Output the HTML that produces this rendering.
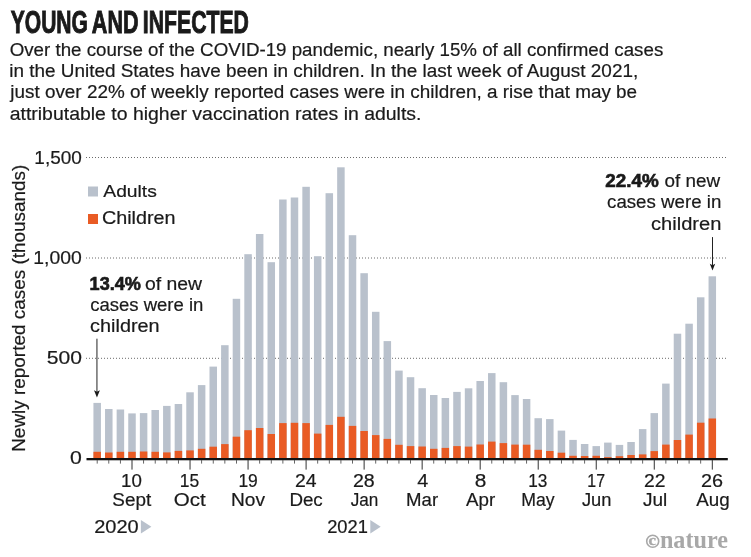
<!DOCTYPE html>
<html><head><meta charset="utf-8"><style>
html,body{margin:0;padding:0;background:#fff;}
svg{display:block;}
text{filter:grayscale(1);}
text{font-family:"Liberation Sans",sans-serif;}
</style></head><body>
<svg width="751" height="557" viewBox="0 0 751 557">
<rect width="751" height="557" fill="#fff"/>
<line x1="86" y1="157.5" x2="727" y2="157.5" stroke="#6a6a6a" stroke-width="1" stroke-dasharray="1 2"/>
<line x1="86" y1="258.0" x2="727" y2="258.0" stroke="#6a6a6a" stroke-width="1" stroke-dasharray="1 2"/>
<line x1="86" y1="358.3" x2="727" y2="358.3" stroke="#6a6a6a" stroke-width="1" stroke-dasharray="1 2"/>
<rect x="93.43" y="402.90" width="7.5" height="55.10" fill="#b9c1cc"/>
<rect x="93.43" y="451.80" width="7.5" height="6.20" fill="#e95b24"/>
<rect x="105.04" y="409.00" width="7.5" height="49.00" fill="#b9c1cc"/>
<rect x="105.04" y="452.50" width="7.5" height="5.50" fill="#e95b24"/>
<rect x="116.64" y="409.50" width="7.5" height="48.50" fill="#b9c1cc"/>
<rect x="116.64" y="451.80" width="7.5" height="6.20" fill="#e95b24"/>
<rect x="128.25" y="413.40" width="7.5" height="44.60" fill="#b9c1cc"/>
<rect x="128.25" y="451.80" width="7.5" height="6.20" fill="#e95b24"/>
<rect x="139.85" y="413.10" width="7.5" height="44.90" fill="#b9c1cc"/>
<rect x="139.85" y="451.50" width="7.5" height="6.50" fill="#e95b24"/>
<rect x="151.46" y="410.00" width="7.5" height="48.00" fill="#b9c1cc"/>
<rect x="151.46" y="451.80" width="7.5" height="6.20" fill="#e95b24"/>
<rect x="163.07" y="405.90" width="7.5" height="52.10" fill="#b9c1cc"/>
<rect x="163.07" y="452.40" width="7.5" height="5.60" fill="#e95b24"/>
<rect x="174.67" y="404.00" width="7.5" height="54.00" fill="#b9c1cc"/>
<rect x="174.67" y="450.90" width="7.5" height="7.10" fill="#e95b24"/>
<rect x="186.28" y="392.30" width="7.5" height="65.70" fill="#b9c1cc"/>
<rect x="186.28" y="450.40" width="7.5" height="7.60" fill="#e95b24"/>
<rect x="197.88" y="385.10" width="7.5" height="72.90" fill="#b9c1cc"/>
<rect x="197.88" y="448.80" width="7.5" height="9.20" fill="#e95b24"/>
<rect x="209.49" y="366.60" width="7.5" height="91.40" fill="#b9c1cc"/>
<rect x="209.49" y="446.70" width="7.5" height="11.30" fill="#e95b24"/>
<rect x="221.10" y="345.20" width="7.5" height="112.80" fill="#b9c1cc"/>
<rect x="221.10" y="444.10" width="7.5" height="13.90" fill="#e95b24"/>
<rect x="232.70" y="298.80" width="7.5" height="159.20" fill="#b9c1cc"/>
<rect x="232.70" y="436.70" width="7.5" height="21.30" fill="#e95b24"/>
<rect x="244.31" y="254.20" width="7.5" height="203.80" fill="#b9c1cc"/>
<rect x="244.31" y="430.20" width="7.5" height="27.80" fill="#e95b24"/>
<rect x="255.91" y="234.00" width="7.5" height="224.00" fill="#b9c1cc"/>
<rect x="255.91" y="428.00" width="7.5" height="30.00" fill="#e95b24"/>
<rect x="267.52" y="262.20" width="7.5" height="195.80" fill="#b9c1cc"/>
<rect x="267.52" y="434.00" width="7.5" height="24.00" fill="#e95b24"/>
<rect x="279.13" y="199.50" width="7.5" height="258.50" fill="#b9c1cc"/>
<rect x="279.13" y="423.10" width="7.5" height="34.90" fill="#e95b24"/>
<rect x="290.73" y="197.50" width="7.5" height="260.50" fill="#b9c1cc"/>
<rect x="290.73" y="422.80" width="7.5" height="35.20" fill="#e95b24"/>
<rect x="302.34" y="186.80" width="7.5" height="271.20" fill="#b9c1cc"/>
<rect x="302.34" y="423.10" width="7.5" height="34.90" fill="#e95b24"/>
<rect x="313.94" y="256.20" width="7.5" height="201.80" fill="#b9c1cc"/>
<rect x="313.94" y="433.60" width="7.5" height="24.40" fill="#e95b24"/>
<rect x="325.55" y="193.20" width="7.5" height="264.80" fill="#b9c1cc"/>
<rect x="325.55" y="424.90" width="7.5" height="33.10" fill="#e95b24"/>
<rect x="337.16" y="167.30" width="7.5" height="290.70" fill="#b9c1cc"/>
<rect x="337.16" y="416.80" width="7.5" height="41.20" fill="#e95b24"/>
<rect x="348.76" y="235.20" width="7.5" height="222.80" fill="#b9c1cc"/>
<rect x="348.76" y="425.90" width="7.5" height="32.10" fill="#e95b24"/>
<rect x="360.37" y="273.20" width="7.5" height="184.80" fill="#b9c1cc"/>
<rect x="360.37" y="431.00" width="7.5" height="27.00" fill="#e95b24"/>
<rect x="371.97" y="311.80" width="7.5" height="146.20" fill="#b9c1cc"/>
<rect x="371.97" y="435.10" width="7.5" height="22.90" fill="#e95b24"/>
<rect x="383.58" y="341.10" width="7.5" height="116.90" fill="#b9c1cc"/>
<rect x="383.58" y="438.90" width="7.5" height="19.10" fill="#e95b24"/>
<rect x="395.19" y="370.60" width="7.5" height="87.40" fill="#b9c1cc"/>
<rect x="395.19" y="444.80" width="7.5" height="13.20" fill="#e95b24"/>
<rect x="406.79" y="377.20" width="7.5" height="80.80" fill="#b9c1cc"/>
<rect x="406.79" y="446.10" width="7.5" height="11.90" fill="#e95b24"/>
<rect x="418.40" y="388.20" width="7.5" height="69.80" fill="#b9c1cc"/>
<rect x="418.40" y="446.50" width="7.5" height="11.50" fill="#e95b24"/>
<rect x="430.00" y="395.00" width="7.5" height="63.00" fill="#b9c1cc"/>
<rect x="430.00" y="448.80" width="7.5" height="9.20" fill="#e95b24"/>
<rect x="441.61" y="398.00" width="7.5" height="60.00" fill="#b9c1cc"/>
<rect x="441.61" y="447.90" width="7.5" height="10.10" fill="#e95b24"/>
<rect x="453.22" y="391.90" width="7.5" height="66.10" fill="#b9c1cc"/>
<rect x="453.22" y="446.10" width="7.5" height="11.90" fill="#e95b24"/>
<rect x="464.82" y="388.30" width="7.5" height="69.70" fill="#b9c1cc"/>
<rect x="464.82" y="446.60" width="7.5" height="11.40" fill="#e95b24"/>
<rect x="476.43" y="381.00" width="7.5" height="77.00" fill="#b9c1cc"/>
<rect x="476.43" y="444.50" width="7.5" height="13.50" fill="#e95b24"/>
<rect x="488.03" y="373.10" width="7.5" height="84.90" fill="#b9c1cc"/>
<rect x="488.03" y="441.60" width="7.5" height="16.40" fill="#e95b24"/>
<rect x="499.64" y="382.20" width="7.5" height="75.80" fill="#b9c1cc"/>
<rect x="499.64" y="443.10" width="7.5" height="14.90" fill="#e95b24"/>
<rect x="511.25" y="395.10" width="7.5" height="62.90" fill="#b9c1cc"/>
<rect x="511.25" y="444.60" width="7.5" height="13.40" fill="#e95b24"/>
<rect x="522.85" y="399.00" width="7.5" height="59.00" fill="#b9c1cc"/>
<rect x="522.85" y="444.70" width="7.5" height="13.30" fill="#e95b24"/>
<rect x="534.46" y="418.20" width="7.5" height="39.80" fill="#b9c1cc"/>
<rect x="534.46" y="449.80" width="7.5" height="8.20" fill="#e95b24"/>
<rect x="546.06" y="419.10" width="7.5" height="38.90" fill="#b9c1cc"/>
<rect x="546.06" y="451.00" width="7.5" height="7.00" fill="#e95b24"/>
<rect x="557.67" y="430.60" width="7.5" height="27.40" fill="#b9c1cc"/>
<rect x="557.67" y="452.70" width="7.5" height="5.30" fill="#e95b24"/>
<rect x="569.28" y="439.90" width="7.5" height="18.10" fill="#b9c1cc"/>
<rect x="569.28" y="455.80" width="7.5" height="2.20" fill="#e95b24"/>
<rect x="580.88" y="444.00" width="7.5" height="14.00" fill="#b9c1cc"/>
<rect x="580.88" y="456.00" width="7.5" height="2.00" fill="#e95b24"/>
<rect x="592.49" y="446.10" width="7.5" height="11.90" fill="#b9c1cc"/>
<rect x="592.49" y="455.80" width="7.5" height="2.20" fill="#e95b24"/>
<rect x="604.09" y="442.60" width="7.5" height="15.40" fill="#b9c1cc"/>
<rect x="604.09" y="457.10" width="7.5" height="0.90" fill="#e95b24"/>
<rect x="615.70" y="444.90" width="7.5" height="13.10" fill="#b9c1cc"/>
<rect x="615.70" y="456.20" width="7.5" height="1.80" fill="#e95b24"/>
<rect x="627.31" y="442.00" width="7.5" height="16.00" fill="#b9c1cc"/>
<rect x="627.31" y="455.00" width="7.5" height="3.00" fill="#e95b24"/>
<rect x="638.91" y="429.10" width="7.5" height="28.90" fill="#b9c1cc"/>
<rect x="638.91" y="454.40" width="7.5" height="3.60" fill="#e95b24"/>
<rect x="650.52" y="413.10" width="7.5" height="44.90" fill="#b9c1cc"/>
<rect x="650.52" y="451.10" width="7.5" height="6.90" fill="#e95b24"/>
<rect x="662.12" y="383.60" width="7.5" height="74.40" fill="#b9c1cc"/>
<rect x="662.12" y="444.60" width="7.5" height="13.40" fill="#e95b24"/>
<rect x="673.73" y="333.70" width="7.5" height="124.30" fill="#b9c1cc"/>
<rect x="673.73" y="440.00" width="7.5" height="18.00" fill="#e95b24"/>
<rect x="685.34" y="323.70" width="7.5" height="134.30" fill="#b9c1cc"/>
<rect x="685.34" y="434.60" width="7.5" height="23.40" fill="#e95b24"/>
<rect x="696.94" y="297.30" width="7.5" height="160.70" fill="#b9c1cc"/>
<rect x="696.94" y="422.70" width="7.5" height="35.30" fill="#e95b24"/>
<rect x="708.55" y="276.30" width="7.5" height="181.70" fill="#b9c1cc"/>
<rect x="708.55" y="418.50" width="7.5" height="39.50" fill="#e95b24"/>
<rect x="86.5" y="458" width="641.30" height="2.3" fill="#111"/>
<rect x="96.73" y="460" width="0.9" height="3.6" fill="#555"/>
<rect x="108.34" y="460" width="0.9" height="3.6" fill="#555"/>
<rect x="119.94" y="460" width="0.9" height="3.6" fill="#555"/>
<rect x="131.50" y="460" width="1" height="9.6" fill="#333"/>
<rect x="143.15" y="460" width="0.9" height="3.6" fill="#555"/>
<rect x="154.76" y="460" width="0.9" height="3.6" fill="#555"/>
<rect x="166.37" y="460" width="0.9" height="3.6" fill="#555"/>
<rect x="177.97" y="460" width="0.9" height="3.6" fill="#555"/>
<rect x="189.53" y="460" width="1" height="9.6" fill="#333"/>
<rect x="201.18" y="460" width="0.9" height="3.6" fill="#555"/>
<rect x="212.79" y="460" width="0.9" height="3.6" fill="#555"/>
<rect x="224.40" y="460" width="0.9" height="3.6" fill="#555"/>
<rect x="236.00" y="460" width="0.9" height="3.6" fill="#555"/>
<rect x="247.56" y="460" width="1" height="9.6" fill="#333"/>
<rect x="259.21" y="460" width="0.9" height="3.6" fill="#555"/>
<rect x="270.82" y="460" width="0.9" height="3.6" fill="#555"/>
<rect x="282.43" y="460" width="0.9" height="3.6" fill="#555"/>
<rect x="294.03" y="460" width="0.9" height="3.6" fill="#555"/>
<rect x="305.59" y="460" width="1" height="9.6" fill="#333"/>
<rect x="317.24" y="460" width="0.9" height="3.6" fill="#555"/>
<rect x="328.85" y="460" width="0.9" height="3.6" fill="#555"/>
<rect x="340.46" y="460" width="0.9" height="3.6" fill="#555"/>
<rect x="352.06" y="460" width="0.9" height="3.6" fill="#555"/>
<rect x="363.62" y="460" width="1" height="9.6" fill="#333"/>
<rect x="375.27" y="460" width="0.9" height="3.6" fill="#555"/>
<rect x="386.88" y="460" width="0.9" height="3.6" fill="#555"/>
<rect x="398.49" y="460" width="0.9" height="3.6" fill="#555"/>
<rect x="410.09" y="460" width="0.9" height="3.6" fill="#555"/>
<rect x="421.65" y="460" width="1" height="9.6" fill="#333"/>
<rect x="433.30" y="460" width="0.9" height="3.6" fill="#555"/>
<rect x="444.91" y="460" width="0.9" height="3.6" fill="#555"/>
<rect x="456.52" y="460" width="0.9" height="3.6" fill="#555"/>
<rect x="468.12" y="460" width="0.9" height="3.6" fill="#555"/>
<rect x="479.68" y="460" width="1" height="9.6" fill="#333"/>
<rect x="491.33" y="460" width="0.9" height="3.6" fill="#555"/>
<rect x="502.94" y="460" width="0.9" height="3.6" fill="#555"/>
<rect x="514.55" y="460" width="0.9" height="3.6" fill="#555"/>
<rect x="526.15" y="460" width="0.9" height="3.6" fill="#555"/>
<rect x="537.71" y="460" width="1" height="9.6" fill="#333"/>
<rect x="549.36" y="460" width="0.9" height="3.6" fill="#555"/>
<rect x="560.97" y="460" width="0.9" height="3.6" fill="#555"/>
<rect x="572.58" y="460" width="0.9" height="3.6" fill="#555"/>
<rect x="584.18" y="460" width="0.9" height="3.6" fill="#555"/>
<rect x="595.74" y="460" width="1" height="9.6" fill="#333"/>
<rect x="607.39" y="460" width="0.9" height="3.6" fill="#555"/>
<rect x="619.00" y="460" width="0.9" height="3.6" fill="#555"/>
<rect x="630.61" y="460" width="0.9" height="3.6" fill="#555"/>
<rect x="642.21" y="460" width="0.9" height="3.6" fill="#555"/>
<rect x="653.77" y="460" width="1" height="9.6" fill="#333"/>
<rect x="665.42" y="460" width="0.9" height="3.6" fill="#555"/>
<rect x="677.03" y="460" width="0.9" height="3.6" fill="#555"/>
<rect x="688.64" y="460" width="0.9" height="3.6" fill="#555"/>
<rect x="700.24" y="460" width="0.9" height="3.6" fill="#555"/>
<rect x="711.80" y="460" width="1" height="9.6" fill="#333"/>
<text x="10.78" y="33.2" font-size="31.6" font-weight="bold" fill="#1a1a1a" textLength="77.13" lengthAdjust="spacingAndGlyphs" style='font-family:"Liberation Sans",sans-serif' stroke="#1a1a1a" stroke-width="1.0" stroke-linejoin="miter">YOUNG</text>
<text x="91.86" y="33.2" font-size="31.6" font-weight="bold" fill="#1a1a1a" textLength="46.63" lengthAdjust="spacingAndGlyphs" style='font-family:"Liberation Sans",sans-serif' stroke="#1a1a1a" stroke-width="1.0" stroke-linejoin="miter">AND</text>
<text x="142.82" y="33.2" font-size="31.6" font-weight="bold" fill="#1a1a1a" textLength="106.13" lengthAdjust="spacingAndGlyphs" style='font-family:"Liberation Sans",sans-serif' stroke="#1a1a1a" stroke-width="1.0" stroke-linejoin="miter">INFECTED</text>
<text x="9.66" y="55.6" font-size="17.6" font-weight="normal" fill="#1a1a1a" textLength="653.61" lengthAdjust="spacingAndGlyphs" style='font-family:"Liberation Sans",sans-serif' stroke="#1a1a1a" stroke-width="0.2">Over the course of the COVID-19 pandemic, nearly 15% of all confirmed cases</text>
<text x="9.27" y="76.9" font-size="17.6" font-weight="normal" fill="#1a1a1a" textLength="628.92" lengthAdjust="spacingAndGlyphs" style='font-family:"Liberation Sans",sans-serif' stroke="#1a1a1a" stroke-width="0.2">in the United States have been in children. In the last week of August 2021,</text>
<text x="10.27" y="98.2" font-size="17.6" font-weight="normal" fill="#1a1a1a" textLength="626.84" lengthAdjust="spacingAndGlyphs" style='font-family:"Liberation Sans",sans-serif' stroke="#1a1a1a" stroke-width="0.2">just over 22% of weekly reported cases were in children, a rise that may be</text>
<text x="9.72" y="119.5" font-size="17.6" font-weight="normal" fill="#1a1a1a" textLength="411.72" lengthAdjust="spacingAndGlyphs" style='font-family:"Liberation Sans",sans-serif' stroke="#1a1a1a" stroke-width="0.2">attributable to higher vaccination rates in adults.</text>
<text x="34.33" y="163.6" font-size="17.5" font-weight="normal" fill="#1a1a1a" textLength="47.48" lengthAdjust="spacingAndGlyphs" style='font-family:"Liberation Sans",sans-serif' stroke="#1a1a1a" stroke-width="0.2">1,500</text>
<text x="33.35" y="263.7" font-size="17.5" font-weight="normal" fill="#1a1a1a" textLength="48.48" lengthAdjust="spacingAndGlyphs" style='font-family:"Liberation Sans",sans-serif' stroke="#1a1a1a" stroke-width="0.2">1,000</text>
<text x="46.76" y="363.7" font-size="17.5" font-weight="normal" fill="#1a1a1a" textLength="35.15" lengthAdjust="spacingAndGlyphs" style='font-family:"Liberation Sans",sans-serif' stroke="#1a1a1a" stroke-width="0.2">500</text>
<text x="70.05" y="463.5" font-size="17.5" font-weight="normal" fill="#1a1a1a" textLength="11.82" lengthAdjust="spacingAndGlyphs" style='font-family:"Liberation Sans",sans-serif' stroke="#1a1a1a" stroke-width="0.2">0</text>
<text transform="translate(25.0,451.81) rotate(-90)" x="0" y="0" font-size="18" fill="#1a1a1a" stroke="#1a1a1a" stroke-width="0.2" textLength="287.13" lengthAdjust="spacingAndGlyphs">Newly reported cases (thousands)</text>
<rect x="88" y="186.5" width="10" height="10" fill="#b9c1cc"/>
<text x="103.30" y="196.8" font-size="17.3" font-weight="normal" fill="#1a1a1a" textLength="53.56" lengthAdjust="spacingAndGlyphs" style='font-family:"Liberation Sans",sans-serif' stroke="#1a1a1a" stroke-width="0.2">Adults</text>
<rect x="88" y="214" width="10" height="10" fill="#e95b24"/>
<text x="101.91" y="224.2" font-size="17.5" font-weight="normal" fill="#1a1a1a" textLength="73.66" lengthAdjust="spacingAndGlyphs" style='font-family:"Liberation Sans",sans-serif' stroke="#1a1a1a" stroke-width="0.2">Children</text>
<text x="89.62" y="289.7" font-size="18.0" font-weight="bold" fill="#1a1a1a" textLength="51.24" lengthAdjust="spacingAndGlyphs" style='font-family:"Liberation Sans",sans-serif' stroke="#1a1a1a" stroke-width="0.65">13.4%</text>
<text x="145.02" y="289.8" font-size="17.5" font-weight="normal" fill="#1a1a1a" textLength="57.10" lengthAdjust="spacingAndGlyphs" style='font-family:"Liberation Sans",sans-serif' stroke="#1a1a1a" stroke-width="0.2">of new</text>
<text x="90.16" y="311.0" font-size="17.5" font-weight="normal" fill="#1a1a1a" textLength="113.22" lengthAdjust="spacingAndGlyphs" style='font-family:"Liberation Sans",sans-serif' stroke="#1a1a1a" stroke-width="0.2">cases were in</text>
<text x="90.11" y="332.1" font-size="17.5" font-weight="normal" fill="#1a1a1a" textLength="69.53" lengthAdjust="spacingAndGlyphs" style='font-family:"Liberation Sans",sans-serif' stroke="#1a1a1a" stroke-width="0.2">children</text>
<text x="605.34" y="186.6" font-size="18.0" font-weight="bold" fill="#1a1a1a" textLength="53.44" lengthAdjust="spacingAndGlyphs" style='font-family:"Liberation Sans",sans-serif' stroke="#1a1a1a" stroke-width="0.65">22.4%</text>
<text x="664.45" y="186.7" font-size="17.5" font-weight="normal" fill="#1a1a1a" textLength="55.59" lengthAdjust="spacingAndGlyphs" style='font-family:"Liberation Sans",sans-serif' stroke="#1a1a1a" stroke-width="0.2">of new</text>
<text x="607.05" y="208.0" font-size="17.5" font-weight="normal" fill="#1a1a1a" textLength="114.24" lengthAdjust="spacingAndGlyphs" style='font-family:"Liberation Sans",sans-serif' stroke="#1a1a1a" stroke-width="0.2">cases were in</text>
<text x="651.00" y="229.6" font-size="17.5" font-weight="normal" fill="#1a1a1a" textLength="70.45" lengthAdjust="spacingAndGlyphs" style='font-family:"Liberation Sans",sans-serif' stroke="#1a1a1a" stroke-width="0.2">children</text>
<line x1="96.95" y1="338.7" x2="96.95" y2="392" stroke="#222" stroke-width="1"/>
<path d="M94.0,390.2 L96.95,397.4 L99.9,390.2 L96.95,391.8 Z" fill="#1a1a1a"/>
<line x1="712.5" y1="237.1" x2="712.5" y2="266" stroke="#222" stroke-width="1"/>
<path d="M709.8,263.8 L712.5,270.6 L715.2,263.8 L712.5,265.3 Z" fill="#1a1a1a"/>
<text x="121.00" y="486.8" font-size="17.5" font-weight="normal" fill="#1a1a1a" textLength="20.80" lengthAdjust="spacingAndGlyphs" style='font-family:"Liberation Sans",sans-serif' stroke="#1a1a1a" stroke-width="0.2">10</text>
<text x="112.35" y="505.5" font-size="17.5" font-weight="normal" fill="#1a1a1a" textLength="38.89" lengthAdjust="spacingAndGlyphs" style='font-family:"Liberation Sans",sans-serif' stroke="#1a1a1a" stroke-width="0.2">Sept</text>
<text x="179.69" y="486.8" font-size="17.5" font-weight="normal" fill="#1a1a1a" textLength="19.45" lengthAdjust="spacingAndGlyphs" style='font-family:"Liberation Sans",sans-serif' stroke="#1a1a1a" stroke-width="0.2">15</text>
<text x="173.68" y="505.5" font-size="17.5" font-weight="normal" fill="#1a1a1a" textLength="31.94" lengthAdjust="spacingAndGlyphs" style='font-family:"Liberation Sans",sans-serif' stroke="#1a1a1a" stroke-width="0.2">Oct</text>
<text x="238.39" y="486.8" font-size="17.5" font-weight="normal" fill="#1a1a1a" textLength="19.44" lengthAdjust="spacingAndGlyphs" style='font-family:"Liberation Sans",sans-serif' stroke="#1a1a1a" stroke-width="0.2">19</text>
<text x="231.07" y="505.5" font-size="17.5" font-weight="normal" fill="#1a1a1a" textLength="33.99" lengthAdjust="spacingAndGlyphs" style='font-family:"Liberation Sans",sans-serif' stroke="#1a1a1a" stroke-width="0.2">Nov</text>
<text x="295.03" y="486.8" font-size="17.5" font-weight="normal" fill="#1a1a1a" textLength="21.60" lengthAdjust="spacingAndGlyphs" style='font-family:"Liberation Sans",sans-serif' stroke="#1a1a1a" stroke-width="0.2">24</text>
<text x="289.40" y="505.5" font-size="17.5" font-weight="normal" fill="#1a1a1a" textLength="33.34" lengthAdjust="spacingAndGlyphs" style='font-family:"Liberation Sans",sans-serif' stroke="#1a1a1a" stroke-width="0.2">Dec</text>
<text x="352.92" y="486.8" font-size="17.5" font-weight="normal" fill="#1a1a1a" textLength="21.81" lengthAdjust="spacingAndGlyphs" style='font-family:"Liberation Sans",sans-serif' stroke="#1a1a1a" stroke-width="0.2">28</text>
<text x="350.74" y="505.5" font-size="17.5" font-weight="normal" fill="#1a1a1a" textLength="27.61" lengthAdjust="spacingAndGlyphs" style='font-family:"Liberation Sans",sans-serif' stroke="#1a1a1a" stroke-width="0.2">Jan</text>
<text x="417.20" y="486.8" font-size="17.5" font-weight="normal" fill="#1a1a1a" textLength="11.01" lengthAdjust="spacingAndGlyphs" style='font-family:"Liberation Sans",sans-serif' stroke="#1a1a1a" stroke-width="0.2">4</text>
<text x="406.11" y="505.5" font-size="17.5" font-weight="normal" fill="#1a1a1a" textLength="32.01" lengthAdjust="spacingAndGlyphs" style='font-family:"Liberation Sans",sans-serif' stroke="#1a1a1a" stroke-width="0.2">Mar</text>
<text x="474.66" y="486.8" font-size="17.5" font-weight="normal" fill="#1a1a1a" textLength="11.60" lengthAdjust="spacingAndGlyphs" style='font-family:"Liberation Sans",sans-serif' stroke="#1a1a1a" stroke-width="0.2">8</text>
<text x="466.10" y="505.5" font-size="17.5" font-weight="normal" fill="#1a1a1a" textLength="29.20" lengthAdjust="spacingAndGlyphs" style='font-family:"Liberation Sans",sans-serif' stroke="#1a1a1a" stroke-width="0.2">Apr</text>
<text x="528.31" y="486.8" font-size="17.5" font-weight="normal" fill="#1a1a1a" textLength="19.12" lengthAdjust="spacingAndGlyphs" style='font-family:"Liberation Sans",sans-serif' stroke="#1a1a1a" stroke-width="0.2">13</text>
<text x="521.29" y="505.5" font-size="17.5" font-weight="normal" fill="#1a1a1a" textLength="33.40" lengthAdjust="spacingAndGlyphs" style='font-family:"Liberation Sans",sans-serif' stroke="#1a1a1a" stroke-width="0.2">May</text>
<text x="587.30" y="486.8" font-size="17.5" font-weight="normal" fill="#1a1a1a" textLength="17.73" lengthAdjust="spacingAndGlyphs" style='font-family:"Liberation Sans",sans-serif' stroke="#1a1a1a" stroke-width="0.2">17</text>
<text x="581.93" y="505.5" font-size="17.5" font-weight="normal" fill="#1a1a1a" textLength="29.51" lengthAdjust="spacingAndGlyphs" style='font-family:"Liberation Sans",sans-serif' stroke="#1a1a1a" stroke-width="0.2">Jun</text>
<text x="643.93" y="486.8" font-size="17.5" font-weight="normal" fill="#1a1a1a" textLength="21.48" lengthAdjust="spacingAndGlyphs" style='font-family:"Liberation Sans",sans-serif' stroke="#1a1a1a" stroke-width="0.2">22</text>
<text x="643.02" y="505.5" font-size="17.5" font-weight="normal" fill="#1a1a1a" textLength="24.28" lengthAdjust="spacingAndGlyphs" style='font-family:"Liberation Sans",sans-serif' stroke="#1a1a1a" stroke-width="0.2">Jul</text>
<text x="700.91" y="486.8" font-size="17.5" font-weight="normal" fill="#1a1a1a" textLength="22.03" lengthAdjust="spacingAndGlyphs" style='font-family:"Liberation Sans",sans-serif' stroke="#1a1a1a" stroke-width="0.2">26</text>
<text x="696.30" y="505.5" font-size="17.5" font-weight="normal" fill="#1a1a1a" textLength="33.41" lengthAdjust="spacingAndGlyphs" style='font-family:"Liberation Sans",sans-serif' stroke="#1a1a1a" stroke-width="0.2">Aug</text>
<text x="94.20" y="532.7" font-size="17.5" font-weight="normal" fill="#1a1a1a" textLength="44.49" lengthAdjust="spacingAndGlyphs" style='font-family:"Liberation Sans",sans-serif' stroke="#1a1a1a" stroke-width="0.2">2020</text>
<path d="M140.9,520 L151.4,526.8 L140.9,533.5 Z" fill="#b9c1cc"/>
<text x="327.18" y="532.7" font-size="17.5" font-weight="normal" fill="#1a1a1a" textLength="40.73" lengthAdjust="spacingAndGlyphs" style='font-family:"Liberation Sans",sans-serif' stroke="#1a1a1a" stroke-width="0.2">2021</text>
<path d="M370.3,520 L380.7,526.8 L370.3,533.5 Z" fill="#b9c1cc"/>
<circle cx="652.7" cy="541.2" r="6.0" fill="none" stroke="#a8a8a8" stroke-width="1.6"/>
<text x="648.62" y="544.7" font-size="14.5" font-weight="bold" fill="#a8a8a8" textLength="7.38" lengthAdjust="spacingAndGlyphs" style='font-family:"Liberation Serif",serif' stroke="#a8a8a8" stroke-width="0.4">c</text>
<text x="659.90" y="547.5" font-size="24.5" font-weight="bold" fill="#a8a8a8" textLength="68.11" lengthAdjust="spacingAndGlyphs" style='font-family:"Liberation Serif",serif' >nature</text>
</svg>
</body></html>
